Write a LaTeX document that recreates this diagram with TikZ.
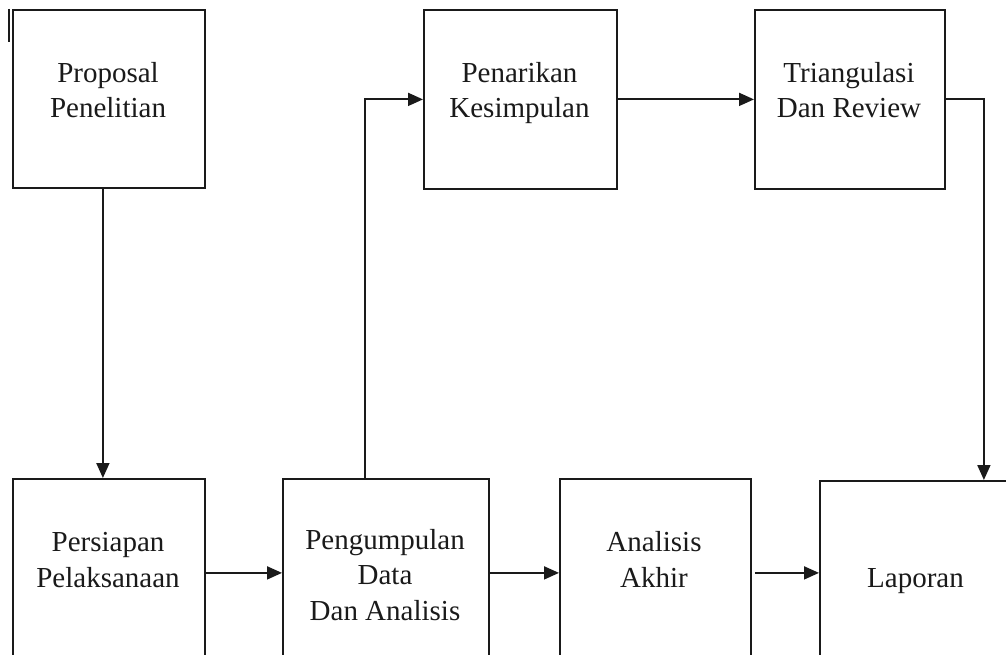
\documentclass[tikz,border=0pt]{standalone}
\usepackage{fontspec}
\setmainfont{Liberation Serif}
\usetikzlibrary{arrows.meta,calc}
\definecolor{ink}{HTML}{1A1A1A}
\tikzset{
  stage/.style={draw=ink, line width=1.8pt, rectangle, inner sep=0pt, anchor=north west},
  caption/.style={anchor=base, align=center, inner sep=0pt, text=ink,
                  font=\fontsize{29}{35.5}\selectfont},
  flow/.style={draw=ink, line width=1.8pt, -{Triangle[length=15pt,width=13pt]}},
}
\begin{document}
\begin{tikzpicture}[x=1pt, y=-1pt]
\useasboundingbox (0,0) rectangle (1006,655);
\clip (0,0) rectangle (1006,655);
\fill[white] (0,0) rectangle (1006,655);

% boxes of the upper row
\node[stage, minimum width=192pt, minimum height=178pt] (prop) at (12,9) {};
\node[stage, minimum width=193pt, minimum height=179pt] (tarik) at (423,9) {};
\node[stage, minimum width=190pt, minimum height=179pt] (tri) at (754,9) {};

% boxes of the lower row (they run past the lower edge)
\node[stage, minimum width=192pt, minimum height=188pt] (siap) at (12,478) {};
\node[stage, minimum width=206pt, minimum height=188pt] (kumpul) at (282,478) {};
\node[stage, minimum width=191pt, minimum height=188pt] (akhir) at (559,478) {};
\node[stage, minimum width=195pt, minimum height=184pt] (lapor) at (819,480) {};

% captions
\node[caption] (tprop) at (108,118) {Proposal\\Penelitian};
\node[caption] (ttarik) at (519.5,118) {Penarikan\\Kesimpulan};
\node[caption] (ttri) at (849,118) {Triangulasi\\Dan Review};
\node[caption] (tsiap) at (108,587) {Persiapan\\Pelaksanaan};
\node[caption] (tkumpul) at (385,620) {Pengumpulan\\Data\\Dan Analisis};
\node[caption] (takhir) at (654,587) {Analisis\\Akhir};
\node[caption] (tlapor) at (915.5,587) {Laporan};

% short stroke at the upper left corner
\draw[ink, line width=1.8pt] (9,9) -- (9,42);

% connectors
\draw[flow] ([xshift=-6pt]prop.south) -- ([xshift=-6pt]siap.north);
\draw[flow] (siap.east) -- (kumpul.west);
\draw[flow] (kumpul.east) -- (akhir.west);
\draw[flow, shorten <=3pt] (akhir.east) -- (lapor.west);
\draw[flow] ([xshift=-21pt]kumpul.north) |- (tarik.west);
\draw[flow] (tarik.east) -- (tri.west);
\draw[flow] (tri.east) -| ([xshift=66.5pt]lapor.north);
\end{tikzpicture}
\end{document}
